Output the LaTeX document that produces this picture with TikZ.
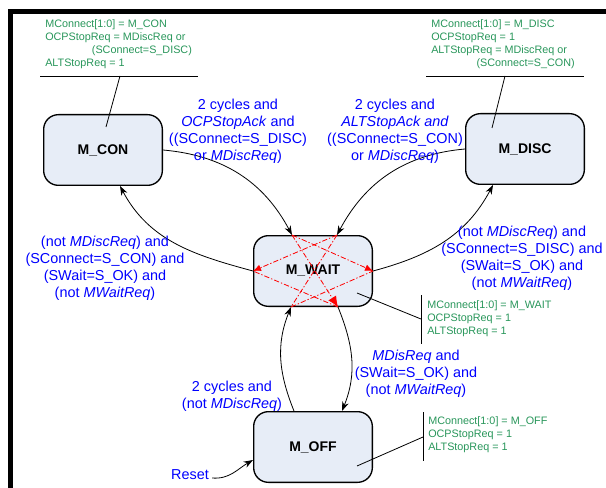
\documentclass[tikz,border=0pt]{standalone}
\usepackage{fontspec}
\setmainfont{Liberation Sans}
\usetikzlibrary{arrows.meta,calc}
\definecolor{lblblue}{RGB}{0,0,255}
\definecolor{anngreen}{RGB}{40,150,90}
\definecolor{statefill}{RGB}{231,237,247}
\begin{document}
\begin{tikzpicture}[x=0.75pt,y=-0.75pt,
 state/.style={draw=black, line width=1pt, fill=statefill, rounded corners=11pt, minimum width=89pt, minimum height=53pt, inner sep=0pt, font=\fontsize{10.5}{12}\selectfont\bfseries},
 trans/.style={line width=0.6pt, -{Stealth[length=7pt,width=5pt]}},
 lbl/.style={text=lblblue, align=center, inner sep=0pt, font=\fontsize{10.8}{12.75}\selectfont},
 ann/.style={text=anngreen, align=left, inner sep=0pt, anchor=north west, font=\fontsize{8.1}{9.75}\selectfont},
 annline/.style={line width=0.6pt},
 redstar/.style={red, line width=0.6pt, dash pattern=on 4pt off 1.5pt on 1pt off 1.5pt},
 redtip/.style={-{Latex[length=6pt,width=5pt]}},
 bigredtip/.style={-{Latex[length=8pt,width=7pt]}},
]
\useasboundingbox (0,0) rectangle (606,488);
% frame
\fill[black] (8,9) rectangle (13,488);
\fill[black] (8,9) rectangle (606,14);

% states
\node[state] (con) at (103,150) {M\_CON};
\node[state] (disc) at (525,149) {M\_DISC};
\node[state] (wait) at (313,271) {M\_WAIT};
\node[state] (off) at (313,447) {M\_OFF};

% attachment points on M_WAIT
\coordinate (wTL) at ($(wait.north)+(-21,0)$);
\coordinate (wTR) at ($(wait.north)+(24,0)$);
\coordinate (wL) at (wait.west);
\coordinate (wR) at (wait.east);
\coordinate (wBL) at ($(wait.south)+(-22,0)$);
\coordinate (wBR) at ($(wait.south)+(25,0)$);

% transitions
\draw[trans] (con.east) to[out=-5,in=118] (wTL);
\draw[trans] (disc.west) to[out=185,in=62] (wTR);
\draw[trans] (wL) to[out=165,in=-62] ($(con.south)+(17,0)$);
\draw[trans] (wR) to[out=15,in=-118] ($(disc.south)+(-32,0)$);
\draw[trans] ($(off.north)+(-19,0)$) to[out=112,in=-112] (wBL);
\draw[trans] (wBR) to[out=-68,in=68] ($(off.north)+(29,0)$);

% red star inside M_WAIT
\draw[redstar,bigredtip] (wTL) -- (wBR);
\draw[redstar,redtip] (wTL) -- (wR);
\draw[redstar,redtip] (wTR) -- (wL);
\draw[redstar] (wTR) -- (wBL);
\draw[redstar] (wBL) -- (wR);
\draw[redstar] (wBR) -- (wL);

% reset
\node[lbl] (reset) at (190,475) {Reset};
\draw[trans] ($(reset.east)+(3,3)$) to[out=-5,in=210] ($(off.west)+(0,13)$);

% blue labels
\node[lbl] (l1) at (238,131) {2 cycles and\\\textit{OCPStopAck} and\\((SConnect=S\_DISC)\\or \textit{MDiscReq})};
\node[lbl] (l2) at (395,131) {2 cycles and\\\textit{ALTStopAck and}\\((SConnect=S\_CON)\\or \textit{MDiscReq})};
\node[lbl] (l3) at (105,268) {(not \textit{MDiscReq}) and\\(SConnect=S\_CON) and\\(SWait=S\_OK) and\\(not \textit{MWaitReq})};
\node[lbl] (l4) at (522,258) {(not \textit{MDiscReq}) and\\(SConnect=S\_DISC) and\\(SWait=S\_OK) and\\(not \textit{MWaitReq})};
\node[lbl] (l5) at (232,396) {2 cycles and\\(not \textit{MDiscReq})};
\node[lbl] (l6) at (416,374) {\textit{MDisReq} and\\(SWait=S\_OK) and\\(not \textit{MWaitReq})};

% annotations
\node[ann] (annCon) at (45,19) {MConnect[1:0] = M\_CON\\OCPStopReq = MDiscReq or\\\hspace*{35pt}(SConnect=S\_DISC)\\ALTStopReq = 1};
\draw[annline] (40,76) -- (198,76);
\coordinate (conAnnTip) at (120,76);
\draw[annline] (conAnnTip) -- ($(con.center)+(3,-23)$);

\node[ann] (annDisc) at (431,19) {MConnect[1:0] = M\_DISC\\OCPStopReq = 1\\ALTStopReq = MDiscReq or\\\hspace*{34pt}(SConnect=S\_CON)};
\draw[annline] (426,76) -- (584,76);
\coordinate (discAnnTip) at (505,76);
\draw[annline] (discAnnTip) -- ($(disc.center)+(-33,-21)$);

\node[ann] (annWait) at (427,300) {MConnect[1:0] = M\_WAIT\\OCPStopReq = 1\\ALTStopReq = 1};
\draw[annline] (421,295) -- (421,344);
\coordinate (waitAnnTip) at (421,319);
\draw[annline] ($(wait.center)+(44,22)$) -- (waitAnnTip);

\node[ann] (annOff) at (428,416) {MConnect[1:0] = M\_OFF\\OCPStopReq = 1\\ALTStopReq = 1};
\draw[annline] (423,412) -- (423,461);
\coordinate (offAnnTip) at (423,437);
\draw[annline] ($(off.center)+(44,19)$) -- (offAnnTip);
\end{tikzpicture}
\end{document}
